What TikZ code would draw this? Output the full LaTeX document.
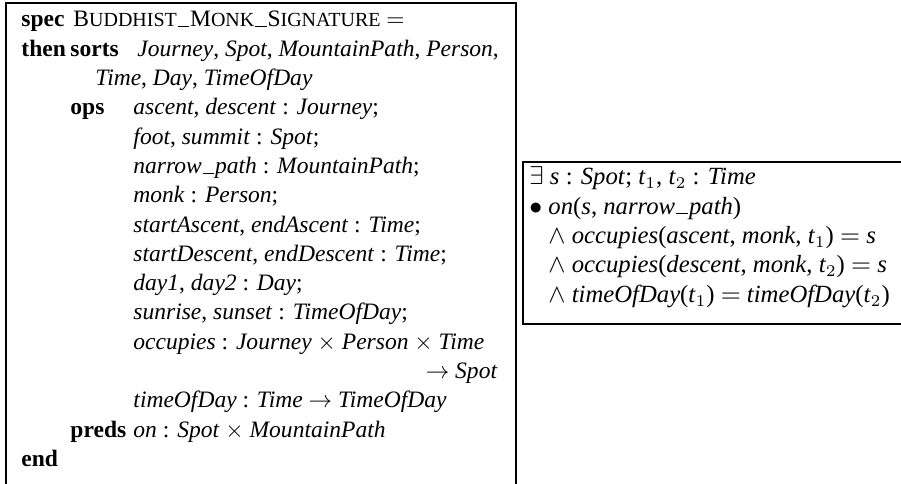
\documentclass[tikz,border=0pt]{standalone}
\usepackage{fontspec}
\setmainfont{Liberation Serif}
\newcommand\usc{\kern0.03em\rule{0.5em}{0.4pt}\kern0.03em}
\newcommand\smc[1]{{\fontsize{8.5pt}{9pt}\selectfont #1}}
\newcommand\ii[1]{\textit{#1}}
\begin{document}
\begin{tikzpicture}[x=0.425pt,y=-0.425pt,
  txt/.style={anchor=base west, inner sep=0pt, font=\fontsize{10pt}{12pt}\selectfont},
  txtr/.style={txt, anchor=base east},
  rtxt/.style={anchor=base west, inner sep=0pt, font=\fontsize{10.5pt}{13pt}\selectfont},
  frame/.style={draw=black, line width=0.5pt}]
\useasboundingbox (0,0) rectangle (901,484);
% left box
\draw[frame] (6,484) -- (6,3) -- (516,3) -- (516,484);
\node[txt] (spec) at (21,27) {\textbf{spec}};
\node[txt] (name) at (73,27) {B\smc{UDDHIST}\usc M\smc{ONK}\usc S\smc{IGNATURE} $=$};
\node[txt] (then) at (21,56.3) {\textbf{then}};
\node[txt] (sorts) at (70,56.3) {\textbf{sorts}};
\node[txt] (s1) at (137,56.3) {\ii{Journey}, \ii{Spot}, \ii{MountainPath}, \ii{Person},};
\node[txt] (s2) at (95,85.6) {\ii{Time}, \ii{Day}, \ii{TimeOfDay}};
\node[txt] (ops) at (70,114.9) {\textbf{ops}};
\node[txt] (o1) at (133,114.9) {\ii{ascent}, \ii{descent} : \ii{Journey};};
\node[txt] (o2) at (133,144.2) {\ii{foot}, \ii{summit} : \ii{Spot};};
\node[txt] (o3) at (133,173.5) {\ii{narrow\usc path} : \ii{MountainPath};};
\node[txt] (o4) at (133,202.8) {\ii{monk} : \ii{Person};};
\node[txt] (o5) at (133,232.1) {\ii{startAscent}, \ii{endAscent} : \ii{Time};};
\node[txt] (o6) at (133,261.4) {\ii{startDescent}, \ii{endDescent} : \ii{Time};};
\node[txt] (o7) at (133,290.7) {\ii{day1}, \ii{day2} : \ii{Day};};
\node[txt] (o8) at (133,320) {\ii{sunrise}, \ii{sunset} : \ii{TimeOfDay};};
\node[txt] (o9) at (133,349.3) {\ii{occupies} : \ii{Journey} $\times$ \ii{Person} $\times$ \ii{Time}};
\node[txtr] (o9b) at (498,378.6) {$\rightarrow$ \ii{Spot}};
\node[txt] (o10) at (133,407.9) {\ii{timeOfDay} : \ii{Time} $\rightarrow$ \ii{TimeOfDay}};
\node[txt] (preds) at (70,437.2) {\textbf{preds}};
\node[txt] (p1) at (133,437.2) {\ii{on} : \ii{Spot} $\times$ \ii{MountainPath}};
\node[txt] (end) at (21,466.5) {\textbf{end}};
% right box
\draw[frame] (901,162) -- (523,162) -- (523,324) -- (901,324);
\node[rtxt] (r1) at (529,185) {$\exists$ \ii{s} : \ii{Spot}; \ii{t}$_1$, \ii{t}$_2$ : \ii{Time}};
\node[rtxt] (bul) at (529,214.3) {$\bullet$};
\node[rtxt] (r2) at (548,214.3) {\ii{on}(\ii{s}, \ii{narrow\usc path})};
\node[rtxt] (r3) at (548,243.6) {$\wedge$ \ii{occupies}(\ii{ascent}, \ii{monk}, \ii{t}$_1$) $=$ \ii{s}};
\node[rtxt] (r4) at (548,272.9) {$\wedge$ \ii{occupies}(\ii{descent}, \ii{monk}, \ii{t}$_2$) $=$ \ii{s}};
\node[rtxt] (r5) at (548,302.2) {$\wedge$ \ii{timeOfDay}(\ii{t}$_1$) $=$ \ii{timeOfDay}(\ii{t}$_2$)};
\end{tikzpicture}
\end{document}
